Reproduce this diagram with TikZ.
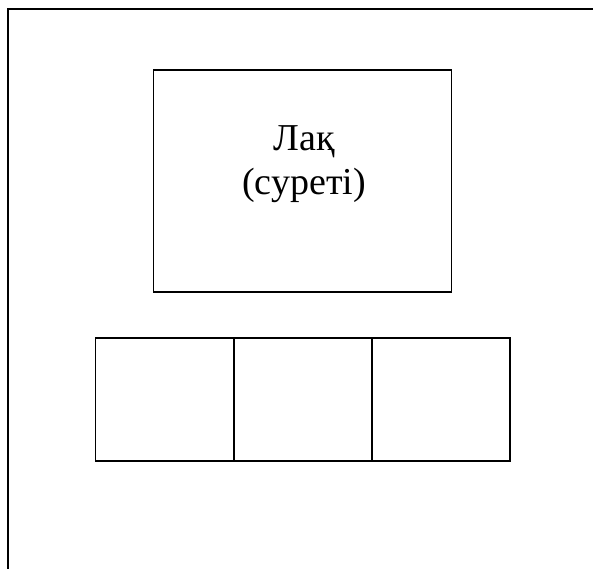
\documentclass[tikz,border=0pt]{standalone}
\usepackage{fontspec}
\setmainfont{Liberation Serif}
\begin{document}
\begin{tikzpicture}[x=1bp,y=-1bp,
  frameline/.style={line width=2bp},
  boxline/.style={draw,line width=1.6bp},
  labeltext/.style={font=\fontsize{38bp}{44bp}\selectfont,inner sep=0,anchor=base}]
\useasboundingbox (0,0) rectangle (593,569);
\coordinate (ftl) at (8,9);
\coordinate (ftr) at (593,9);
\coordinate (fbl) at (8,569);
\draw[frameline] (fbl) -- (ftl) -- (ftr);
\node[boxline,minimum width=298bp,minimum height=222bp,inner sep=0] (pic) at (302.6,181) {};
\node[labeltext] (lbl1) at (304,150.5) {Лақ};
\node[labeltext] (lbl2) at (304,194) {(суреті)};
\node[boxline,minimum width=138.3bp,minimum height=123bp,inner sep=0] (c1) at (164.8,399.2) {};
\node[boxline,minimum width=138.3bp,minimum height=123bp,inner sep=0] (c2) at (302.9,399.2) {};
\node[boxline,minimum width=138.3bp,minimum height=123bp,inner sep=0] (c3) at (441,399.2) {};
\end{tikzpicture}
\end{document}
